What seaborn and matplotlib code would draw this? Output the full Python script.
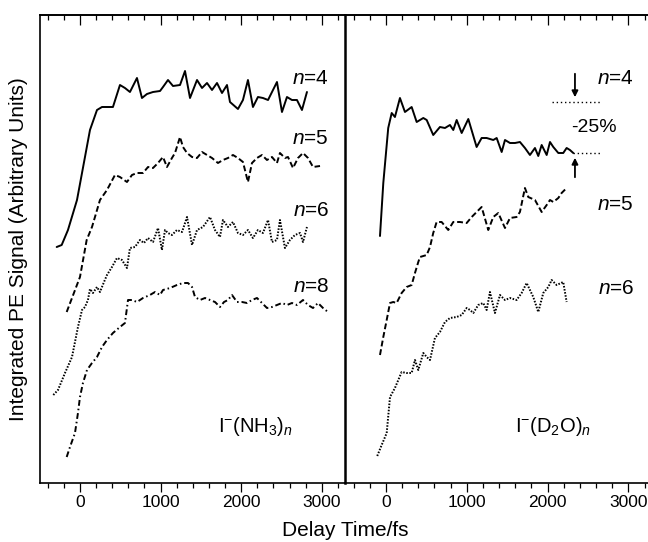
import numpy as np
import pandas as pd
import matplotlib
matplotlib.use("Agg")
import matplotlib.pyplot as plt
import seaborn as sns
from matplotlib.ticker import MultipleLocator, FixedLocator, NullLocator

sns.set_theme(style="ticks")
plt.rcParams["font.family"] = ["Liberation Sans", "DejaVu Sans"]
plt.rcParams["mathtext.fontset"] = "custom"
plt.rcParams["mathtext.rm"] = "Liberation Sans"
plt.rcParams["mathtext.it"] = "Liberation Sans:italic"
plt.rcParams["mathtext.bf"] = "Liberation Sans:bold"
plt.rcParams["text.color"] = "black"

# ---------------- data (delay time in fs, signal in arbitrary units) ----------------
# Left panel: I-(NH3)n
nh3_t4 = [-289, -227, -149, -37, 62, 124, 211, 273, 347, 409, 496, 558, 620, 707, 769, 831, 906, 993,
          1030, 1092, 1154, 1241, 1303, 1365, 1452, 1514, 1576, 1638, 1700, 1762, 1824, 1861, 1960,
          2022, 2084, 2146, 2208, 2270, 2333, 2444, 2506, 2568, 2630, 2692, 2754, 2816]
nh3_v4 = [236, 238, 253, 283, 326, 353, 373, 376, 376, 376, 398, 395, 391, 405, 385, 389, 391, 392,
          396, 403, 397, 398, 412, 385, 403, 395, 400, 393, 400, 390, 398, 381, 374,
          383, 403, 376, 386, 385, 383, 401, 371, 386, 383, 383, 373, 391]

nh3_t5 = [-165, 0, 83, 149, 186, 248, 335, 434, 496, 583, 645, 707, 782, 844, 906, 968, 1030, 1079,
          1141, 1179, 1241, 1278, 1328, 1390, 1452, 1514, 1576, 1638, 1712, 1774, 1836, 1898, 1960,
          2022, 2084, 2134, 2196, 2258, 2320, 2382, 2444, 2481, 2543, 2581, 2643, 2705, 2767, 2829,
          2891, 2978]
nh3_v5 = [171, 206, 243, 256, 266, 283, 293, 308, 306, 301, 308, 310, 310, 316, 315, 320, 326, 316,
          325, 330, 346, 336, 330, 326, 325, 331, 328, 325, 320, 323, 325, 328, 325,
          321, 301, 320, 325, 328, 323, 326, 320, 330, 325, 326, 315, 325, 330, 325,
          316, 317]

nh3_t6 = [-331, -273, -186, -99, -25, 25, 62, 99, 124, 161, 211, 248, 298, 335, 397, 459, 521, 583,
          620, 682, 744, 794, 844, 906, 968, 1017, 1055, 1092, 1141, 1203, 1266, 1328, 1390, 1452,
          1526, 1613, 1675, 1737, 1774, 1836, 1898, 1960, 2022, 2084, 2146, 2208, 2270, 2333, 2382,
          2444, 2481, 2543, 2605, 2667, 2730, 2767, 2816]
nh3_v6 = [88, 93, 110, 126, 156, 173, 176, 183, 194, 190, 196, 191, 201, 208, 216, 225, 223, 215,
          235, 236, 243, 240, 245, 241, 255, 233, 253, 250, 248, 253, 251, 266, 238, 253,
          256, 266, 253, 246, 263, 256, 261, 250, 248, 253, 245, 253, 250, 263, 241,
          243, 263, 235, 243, 248, 250, 241, 256]

nh3_t8 = [-165, -124, -62, -25, 0, 37, 87, 149, 211, 273, 335, 409, 496, 558, 596, 645, 707, 782,
          868, 931, 993, 1030, 1117, 1203, 1278, 1340, 1390, 1427, 1489, 1551, 1613, 1675, 1737,
          1787, 1836, 1886, 1948, 2010, 2072, 2134, 2196, 2258, 2320, 2382, 2444, 2506, 2568, 2630,
          2692, 2767, 2829, 2891, 2953, 3015, 3077]
nh3_v8 = [26, 36, 50, 70, 86, 100, 113, 120, 126, 136, 143, 150, 156, 160, 183, 183, 181, 185,
          188, 191, 188, 193, 195, 198, 200, 200, 196, 186, 183, 185, 183, 181, 176,
          181, 183, 188, 181, 181, 180, 183, 185, 180, 175, 176, 178, 180, 178, 180,
          178, 183, 178, 175, 180, 175, 171]

# Right panel: I-(D2O)n
d2o_t4 = [-74, -33, 28, 71, 111, 173, 235, 318, 380, 462, 504, 585, 668, 730, 792, 833, 875, 937,
          1019, 1122, 1184, 1246, 1328, 1370, 1432, 1473, 1535, 1597, 1658, 1720, 1782, 1844, 1885,
          1927, 1989, 2030, 2071, 2133, 2194, 2236, 2277, 2318]
d2o_v4 = [247, 300, 355, 370, 366, 385, 371, 376, 361, 365, 363, 348, 356, 355, 358, 353, 363, 350,
          364, 336, 345, 345, 343, 345, 331, 343, 340, 340, 341, 335, 328, 335, 327,
          338, 328, 341, 336, 330, 330, 335, 333, 330]

d2o_t5 = [-74, -33, 9, 50, 90, 132, 194, 256, 318, 359, 400, 421, 504, 545, 585, 627, 689, 771, 833,
          916, 999, 1061, 1122, 1184, 1266, 1328, 1390, 1473, 1535, 1617, 1658, 1720, 1761, 1844,
          1927, 1989, 2030, 2071, 2133, 2174, 2236]
d2o_v5 = [128, 146, 163, 180, 181, 180, 190, 196, 198, 210, 221, 226, 228, 236, 250, 261, 261, 253, 261,
          261, 260, 266, 271, 276, 253, 266, 270, 255, 265, 266, 271, 295, 286, 283,
          271, 278, 283, 281, 285, 290, 295]

d2o_t6 = [-108, -53, 9, 50, 111, 194, 256, 318, 359, 400, 462, 504, 545, 606, 668, 730, 792, 875,
          937, 999, 1040, 1081, 1142, 1204, 1246, 1287, 1349, 1411, 1473, 1535, 1617, 1679, 1741,
          1823, 1885, 1947, 2009, 2050, 2112, 2194, 2236]
d2o_v6 = [27, 38, 50, 86, 95, 111, 110, 110, 123, 113, 130, 126, 123, 145, 151, 161, 165, 166,
          168, 175, 173, 170, 178, 180, 173, 191, 170, 188, 183, 185, 183, 190, 200,
          186, 171, 190, 196, 203, 198, 201, 181]

series = [
    ("NH3", "4", nh3_t4, nh3_v4), ("NH3", "5", nh3_t5, nh3_v5),
    ("NH3", "6", nh3_t6, nh3_v6), ("NH3", "8", nh3_t8, nh3_v8),
    ("D2O", "4", d2o_t4, d2o_v4), ("D2O", "5", d2o_t5, d2o_v5),
    ("D2O", "6", d2o_t6, d2o_v6),
]
frames = []
for panel, n, t, v in series:
    frames.append(pd.DataFrame({"panel": panel, "n": n, "t": t, "v": v}))
df = pd.concat(frames, ignore_index=True)

dashes = {"4": "", "5": (3.0, 1.5), "6": (0.8, 0.8), "8": (3.0, 1.5, 0.8, 1.5)}

# ---------------- figure ----------------
W, H = 648, 542
fig = plt.figure(figsize=(W / 100, H / 100), dpi=100)
top_px, bot_px = 15, 483
axL = fig.add_axes([40 / W, (H - bot_px) / H, 305 / W, (bot_px - top_px) / H])
axR = fig.add_axes([345 / W, (H - bot_px) / H, 303 / W, (bot_px - top_px) / H], sharey=axL)
axR.patch.set_visible(False)

for ax, panel in [(axL, "NH3"), (axR, "D2O")]:
    sub = df[df["panel"] == panel]
    sns.lineplot(data=sub, x="t", y="v", style="n", dashes=dashes, color="black",
                 linewidth=1.4, estimator=None, sort=False, legend=False, ax=ax)
    ax.set_xlabel("")
    ax.set_ylabel("")
    ax.xaxis.set_major_locator(FixedLocator([0, 1000, 2000, 3000]))
    ax.xaxis.set_minor_locator(MultipleLocator(200))
    ax.yaxis.set_major_locator(NullLocator())
    ax.tick_params(axis="x", which="major", direction="out", length=6.5, width=0.9,
                   color="black", labelsize=12.5, pad=2, labelcolor="black")
    ax.tick_params(axis="x", which="minor", direction="out", length=3.6, width=0.9, color="black")
    ax.tick_params(axis="y", left=False, right=False, labelleft=False)
    sec = ax.secondary_xaxis("top")
    sec.xaxis.set_major_locator(FixedLocator([0, 1000, 2000, 3000]))
    sec.xaxis.set_minor_locator(MultipleLocator(200))
    sec.tick_params(which="major", direction="in", length=7, width=0.9, labeltop=False, color="black")
    sec.tick_params(which="minor", direction="in", length=3.6, width=0.9, color="black")
    sec.spines["top"].set_linewidth(1.2)
    sec.spines["top"].set_color("black")
    for s in ax.spines.values():
        s.set_color("black")
        s.set_linewidth(1.2)

axL.set_xlim(-496, 3288)
axR.set_xlim(-507, 3243)
axL.set_ylim(0, bot_px - top_px)
axL.spines["right"].set_linewidth(1.8)
axL.spines["right"].set_zorder(5)
axR.spines["left"].set_visible(False)
axR.spines["right"].set_visible(False)

def ftxt(x, y, s, **kw):
    fig.text(x / W, 1 - y / H, s, color="black", **kw)

# axis labels
ftxt(19, 249, "Integrated PE Signal (Arbitrary Units)", rotation=90, ha="center", va="center",
     fontsize=15)
ftxt(345, 530, "Delay Time/fs", ha="center", va="center", fontsize=15)

# cluster size labels
for y, n in [(78, "4"), (138, "5"), (210, "6"), (287, "8")]:
    ftxt(329, y, "$n$=" + n, ha="right", va="center", fontsize=15)
for y, n in [(78, "4"), (205, "5"), (288, "6")]:
    ftxt(634, y, "$n$=" + n, ha="right", va="center", fontsize=15)

ftxt(256, 427, r"I$^{-}$(NH$_3$)$_n$", ha="center", va="center", fontsize=14.5)
ftxt(553, 427, r"I$^{-}$(D$_2$O)$_n$", ha="center", va="center", fontsize=14.5)

# -25% annotation (right panel, data coordinates)
axR.plot([2051, 2649], [381, 381], color="black", lw=1.0, ls=(0, (1, 2)))
axR.plot([2318, 2649], [330, 330], color="black", lw=1.0, ls=(0, (1, 2)))
axR.annotate("", xy=(2339, 383), xytext=(2339, 412),
             arrowprops=dict(arrowstyle="-|>", color="black", lw=1.3, mutation_scale=9))
axR.annotate("", xy=(2339, 328), xytext=(2339, 303),
             arrowprops=dict(arrowstyle="-|>", color="black", lw=1.3, mutation_scale=9))
axR.text(2570, 355, "-25%", ha="center", va="center", fontsize=14, color="black")

fig.savefig("out.png", dpi=100)
